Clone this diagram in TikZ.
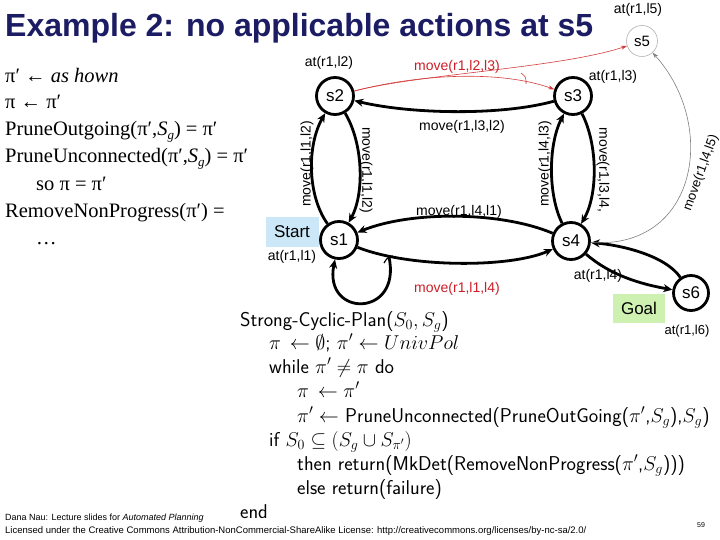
\RequirePackage{fix-cm}
\documentclass[tikz,border=0pt]{standalone}
\usepackage[no-math]{fontspec}
\setmainfont{Liberation Sans}
\newfontfamily\serifx{Liberation Serif}
\usetikzlibrary{arrows.meta}
\definecolor{navy}{RGB}{28,28,100}
\definecolor{redline}{RGB}{214,60,60}
\definecolor{redtext}{RGB}{205,30,40}
\definecolor{startblue}{RGB}{204,232,248}
\definecolor{goalgreen}{RGB}{206,240,176}
\begin{document}
\begin{tikzpicture}[x=1pt,y=-1pt,
  st/.style={circle,draw,line width=2.8pt,minimum size=37pt,inner sep=0pt,font=\fontsize{17}{17}\selectfont},
  ghost/.style={circle,draw=gray!60,line width=0.6pt,minimum size=31pt,inner sep=0pt,font=\fontsize{15}{15}\selectfont},
  tk/.style={line width=2.8pt,-{Stealth[length=9pt,width=8pt]}},
  rl/.style={draw=redline,line width=0.6pt,-{Stealth[length=6pt,width=4pt]}},
  gl/.style={draw=gray,line width=0.6pt,-{Stealth[length=6pt,width=4pt]}},
  lbl/.style={font=\fontsize{14}{14}\selectfont,inner sep=0pt},
  rlbl/.style={lbl,text=redtext},
  lt/.style={anchor=base west,inner sep=0pt,font=\serifx\fontsize{20.5}{20.5}\selectfont},
  alg/.style={anchor=base west,inner sep=0pt,font=\sffamily\fontsize{20}{20}\selectfont},
  foot/.style={anchor=base west,inner sep=0pt}]
\useasboundingbox[fill=white] (0,0) rectangle (720,540);

% title
\node[anchor=base west,inner sep=0pt,text=navy,font=\bfseries\fontsize{32}{32}\selectfont] (title) at (5,37) {Example 2: no applicable actions at s5};

% left text
\newcommand{\sgx}{\textit{S}\raisebox{-4pt}{\fontsize{13}{13}\selectfont\itshape g}}
\node[lt] (l1) at (5,83) {π′ ← \textit{as hown}};
\node[lt] (l2) at (5,109) {π ← π′};
\node[lt] (l3) at (5,136) {PruneOutgoing(π′,\sgx) = π′};
\node[lt] (l4) at (5,163) {PruneUnconnected(π′,\sgx) = π′};
\node[lt] (l5) at (36,191) {so π = π′};
\node[lt] (l6) at (5,218) {RemoveNonProgress(π′) =};
\node[lt] (l7) at (36,244) {…};

% start / goal boxes
\node[fill=startblue,minimum width=53pt,minimum height=30pt,inner sep=0pt,font=\fontsize{17}{17}\selectfont] (start) at (292,232) {Start};
\node[fill=goalgreen,minimum width=52pt,minimum height=29pt,inner sep=0pt,font=\fontsize{17}{17}\selectfont] (goal) at (639,308) {Goal};

% states
\node[st] (s2) at (335,96) {s2};
\node[st] (s3) at (573,96) {s3};
\node[st] (s1) at (339,240) {s1};
\node[st] (s4) at (571,241) {s4};
\node[st,minimum size=35pt] (s6) at (691,293) {s6};
\node[ghost] (s5) at (642,41) {s5};

% state labels
\node[lbl] (a2) at (329,63) {at(r1,l2)};
\node[lbl] (a3) at (613,77) {at(r1,l3)};
\node[lbl] (a1) at (292,257) {at(r1,l1)};
\node[lbl] (a4) at (598,276) {at(r1,l4)};
\node[lbl] (a5) at (638,10) {at(r1,l5)};
\node[lbl,font=\fontsize{13}{13}\selectfont] (a6) at (687,331) {at(r1,l6)};

% thick edges
\draw[tk] (s3) .. controls (500,116) and (410,114) .. (s2);
\draw[tk] (s1) .. controls (307,195) and (307,145) .. (s2);
\draw[tk] (s2) .. controls (364,145) and (364,195) .. (s1);
\draw[tk] (s4) .. controls (548,195) and (548,145) .. (s3);
\draw[tk] (s3) .. controls (598,145) and (598,195) .. (s4);
\draw[tk] (s4) .. controls (500,211) and (410,211) .. (s1);
\draw[tk] (s1) .. controls (410,268) and (510,268) .. (s4);
\coordinate (br) at (389,257);
\draw[tk] (br) .. controls (402,318) and (323,318) .. (s1);
\draw[line width=1.2pt] (384,263) .. controls (387,258) .. (393,256);
\draw[tk] (s4) .. controls (610,275) and (640,284) .. (s6);
\draw[tk] (s6) .. controls (665,255) and (620,245) .. (s4);

% red nondeterministic action
\draw[rl] (s2) .. controls (420,74) and (560,68) .. (s5);
\draw[rl] (s2) .. controls (420,74) and (500,70) .. (s3);
\draw[draw=redline,line width=0.6pt] (521,73) .. controls (526,77) .. (526,84);

% gray edge
\draw[gl] (s4) .. controls (698,250) and (718,125) .. (s5);

% edge labels
\node[rlbl] (m23) at (457,67) {move(r1,l2,l3)};
\node[lbl] (m32) at (462,127) {move(r1,l3,l2)};
\node[lbl] (m41) at (459,212) {move(r1,l4,l1)};
\node[rlbl] (m14) at (457,289) {move(r1,l1,l4)};
\node[lbl,rotate=90] (m12a) at (307,164) {move(r1,l1,l2)};
\node[lbl,rotate=-90] (m12b) at (366,170) {move(r1,l1,l2)};
\node[lbl,rotate=90] (m43) at (545,164) {move(r1,l4,l3)};
\node[lbl,rotate=-90] (m34) at (603,170) {move(r1,l3,l4,};
\node[lbl,rotate=70,font=\fontsize{13}{13}\selectfont] (m45) at (701,173) {move(r1,l4,l5)};

% algorithm
\node[alg] (p1) at (240,326) {Strong-Cyclic-Plan($S_0,S_g$)};
\node[alg] (p2) at (269,349) {$\pi\,\leftarrow\emptyset$; $\pi'\leftarrow UnivPol$};
\node[alg] (p3) at (269,373) {while $\pi'\neq\pi$ do};
\node[alg] (p4) at (297,397) {$\pi\,\leftarrow\pi'$};
\node[alg] (p5) at (297,422) {$\pi'\leftarrow$ PruneUnconnected(PruneOutGoing($\pi'$,$S_g$),$S_g$)};
\node[alg] (p6) at (269,446) {if $S_0\subseteq(S_g\cup S_{\pi'})$};
\node[alg] (p7) at (297,470) {then return(MkDet(RemoveNonProgress($\pi'$,$S_g$)))};
\node[alg] (p8) at (297,494) {else return(failure)};
\node[alg] (p9) at (240,518) {end};

% footer
\node[foot,font=\fontsize{9}{9}\selectfont] (f1) at (5,520) {Dana Nau: Lecture slides for \textit{Automated Planning}};
\node[foot,font=\fontsize{9.5}{9.5}\selectfont] (f2) at (5,533) {Licensed under the Creative Commons Attribution-NonCommercial-ShareAlike License: http://creativecommons.org/licenses/by-nc-sa/2.0/};
\node[inner sep=0pt,font=\fontsize{7}{7}\selectfont] (pg) at (701,525) {59};
\end{tikzpicture}
\end{document}
